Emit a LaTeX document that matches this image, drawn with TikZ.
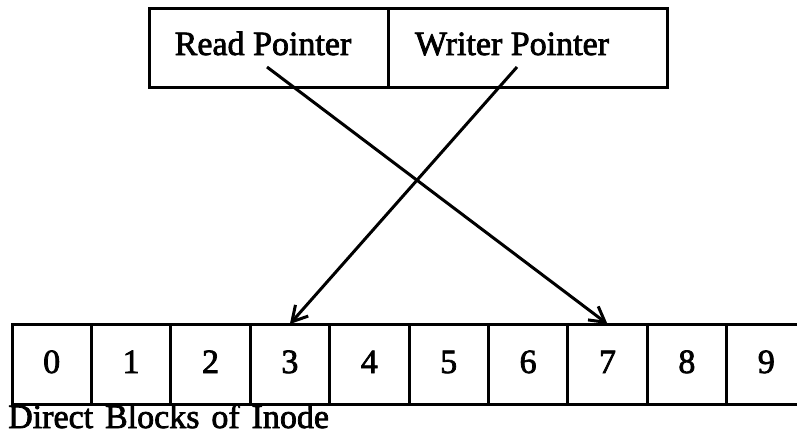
\documentclass[tikz,border=0pt]{standalone}
\usepackage{fontspec}
\setmainfont{Liberation Serif}
\newfontfamily\scanfont{Liberation Serif}[FakeBold=2.2]
\usetikzlibrary{arrows.meta}
\begin{document}
\begin{tikzpicture}[x=1pt,y=-1pt,
  box/.style={draw,line width=3pt,inner sep=0pt,outer sep=0pt},
  cell/.style={box,minimum width=79.4pt,minimum height=80pt},
  txt/.style={font=\scanfont\fontsize{34}{40}\selectfont,inner sep=0pt},
  ptr/.style={line width=3pt,-{Straight Barb[length=15pt,width=17pt,line width=3pt]}}]
\useasboundingbox (0,0) rectangle (797,439);
% top box
\node[box,minimum width=239pt,minimum height=79pt] (rbox) at (268.5,47.5) {};
\node[box,minimum width=279pt,minimum height=79pt] (wbox) at (527.5,47.5) {};
\node[txt,anchor=base] (rtxt) at (263,55) {Read Pointer};
\node[txt,anchor=base] (wtxt) at (512,55) {Writer Pointer};
% cells
\foreach \i in {0,...,9}{
  \node[cell] (c\i) at (12+39.7+79.4*\i,364) {};
  \node[txt,anchor=base] (d\i) at (12+39.7+79.4*\i,373) {\i};
}
\node[txt,anchor=base west] (lbl) at (8,428) {Direct\hspace{0.35em}Blocks\hspace{0.35em}of\hspace{0.35em}Inode};
% pointers
\coordinate (rs) at (267,67);
\coordinate (ws) at (517,67);
\draw[ptr] (rs) -- (c7.north);
\draw[ptr] (ws) -- (c3.north);
\end{tikzpicture}
\end{document}
